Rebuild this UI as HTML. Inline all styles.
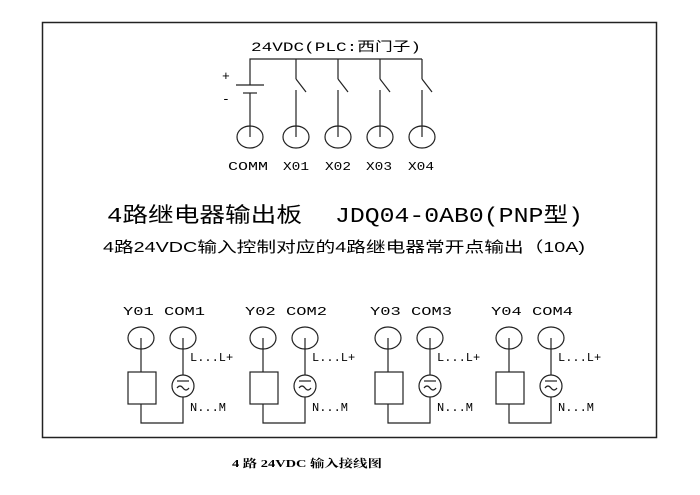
<!DOCTYPE html>
<html><head><meta charset="utf-8"><style>
body{margin:0;background:#fff;width:700px;height:490px;overflow:hidden}
svg text{fill:#000}
</style></head><body>
<svg width="700" height="490" viewBox="0 0 700 490" xmlns="http://www.w3.org/2000/svg" font-family="Liberation Mono, 'Noto Sans CJK SC', monospace">
<rect x="42.5" y="22.5" width="614" height="415" fill="none" stroke="#222" stroke-width="1.5"/>
<g stroke="#222" stroke-width="1.2" fill="none">
<polyline points="250,85 250,59 422,59"/>
<line x1="236" y1="85" x2="264" y2="85"/>
<line x1="243" y1="93" x2="257" y2="93"/>
<line x1="250" y1="93" x2="250" y2="137"/>
<g id="sw">
<line x1="296" y1="59" x2="296" y2="79"/>
<line x1="296" y1="79" x2="306" y2="92"/>
<line x1="296" y1="90" x2="296" y2="137"/>
</g>
<use href="#sw" x="42"/><use href="#sw" x="84"/><use href="#sw" x="126"/>
<ellipse cx="250" cy="137" rx="13" ry="11"/>
<ellipse cx="296" cy="137" rx="13" ry="11"/>
<ellipse cx="338" cy="137" rx="13" ry="11"/>
<ellipse cx="380" cy="137" rx="13" ry="11"/>
<ellipse cx="422" cy="137" rx="13" ry="11"/>
<g id="grp">
<ellipse cx="141" cy="338" rx="13" ry="11"/>
<ellipse cx="183" cy="338" rx="13" ry="11"/>
<line x1="141" y1="338" x2="141" y2="372"/>
<rect x="128" y="372" width="28" height="32"/>
<polyline points="141,404 141,423 183,423 183,397"/>
<line x1="183" y1="338" x2="183" y2="375"/>
<ellipse cx="183" cy="386" rx="11" ry="11"/>
<line x1="177" y1="381" x2="189" y2="381"/>
<path d="M177,388 q3,-4 6,0 q3,4 6,0"/>
</g>
<use href="#grp" x="122"/><use href="#grp" x="247"/><use href="#grp" x="368"/>
</g>
<g font-size="13">
<text x="251" y="51" textLength="170" lengthAdjust="spacingAndGlyphs">24VDC(PLC:西门子)</text>
<text x="222" y="80">+</text>
<text x="222" y="103">-</text>
<text x="228" y="170" font-size="12" textLength="40" lengthAdjust="spacingAndGlyphs">COMM</text>
<text x="283" y="170" font-size="12" textLength="26" lengthAdjust="spacingAndGlyphs">X01</text>
<text x="325" y="170" font-size="12" textLength="26" lengthAdjust="spacingAndGlyphs">X02</text>
<text x="366" y="170" font-size="12" textLength="26" lengthAdjust="spacingAndGlyphs">X03</text>
<text x="408" y="170" font-size="12" textLength="26" lengthAdjust="spacingAndGlyphs">X04</text>
</g>
<text x="107" y="222" font-size="21" textLength="195" lengthAdjust="spacingAndGlyphs">4路继电器输出板</text>
<text x="335" y="222" font-size="21" textLength="248" lengthAdjust="spacingAndGlyphs">JDQ04-0AB0(PNP型)</text>
<text x="103" y="252" font-size="15" font-family="Liberation Sans, 'Noto Sans CJK SC', sans-serif" textLength="482" lengthAdjust="spacingAndGlyphs">4路24VDC输入控制对应的4路继电器常开点输出（10A)</text>
<g font-size="12">
<text x="123" y="315" textLength="82" lengthAdjust="spacingAndGlyphs">Y01 COM1</text>
<text x="245" y="315" textLength="82" lengthAdjust="spacingAndGlyphs">Y02 COM2</text>
<text x="370" y="315" textLength="82" lengthAdjust="spacingAndGlyphs">Y03 COM3</text>
<text x="491" y="315" textLength="82" lengthAdjust="spacingAndGlyphs">Y04 COM4</text>
<g id="lb"><text x="190" y="361">L...L+</text><text x="190" y="411">N...M</text></g>
<use href="#lb" x="122"/><use href="#lb" x="247"/><use href="#lb" x="368"/>
</g>
<text x="232" y="467" font-size="11" font-weight="bold" font-family="Liberation Serif, 'Noto Serif CJK SC', serif" textLength="150" lengthAdjust="spacingAndGlyphs">4 路 24VDC 输入接线图</text>
</svg>
</body></html>
